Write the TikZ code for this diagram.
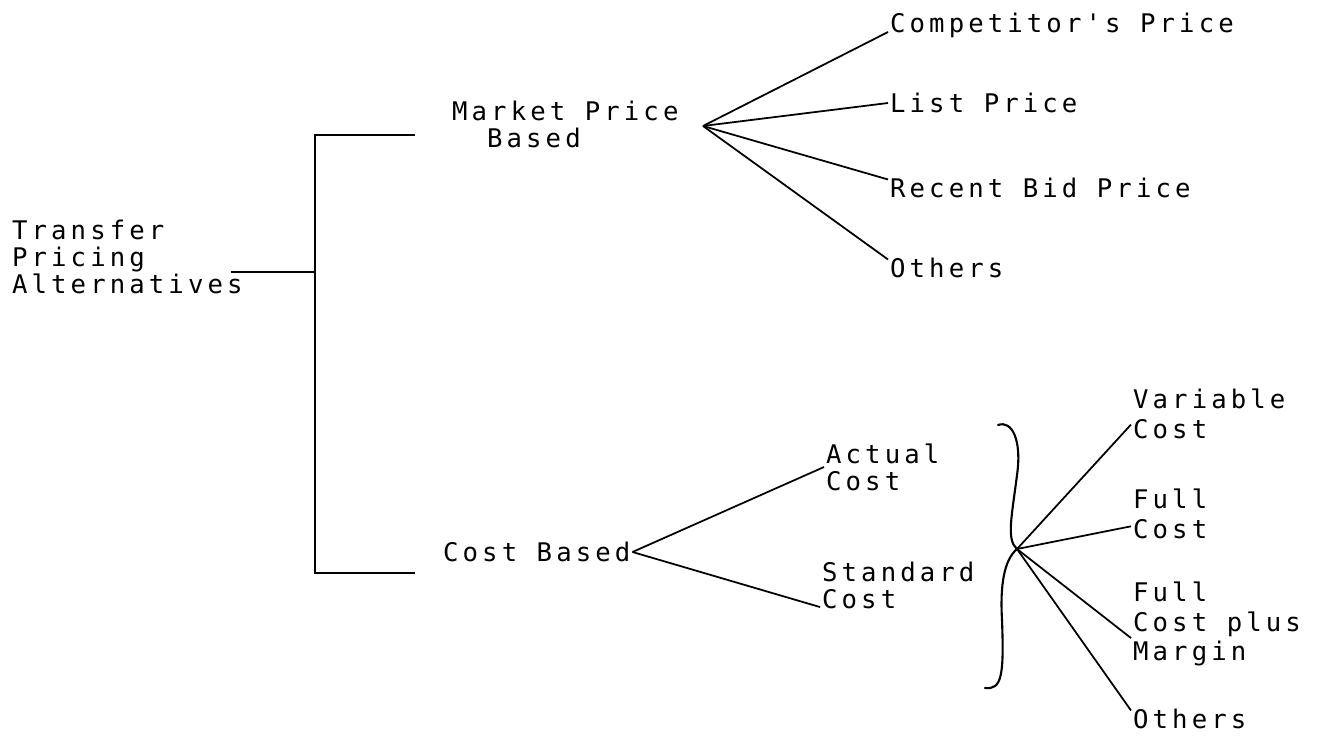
\documentclass[tikz,border=0pt]{standalone}
\usepackage{fontspec}
\usepackage{tikz}
\usetikzlibrary{positioning, calc}
\newfontfamily\typer{DejaVu Sans Mono}[LetterSpace=16]

\begin{document}
\begin{tikzpicture}[
  x={(0.02cm,0cm)}, y={(0cm,-0.02cm)},
  lbl/.style={font=\typer\fontsize{14.6}{15.4}\selectfont, inner sep=1pt,
              align=left, anchor=west},
  tall/.style={lbl, font=\typer\fontsize{14.6}{16.8}\selectfont},
  wire/.style={line width=1pt},
  curly/.style={line width=1.2pt, line cap=round}
]
  \useasboundingbox (0,0) rectangle (1317,736);

  % left side
  \node[lbl] (tpa) at (10,257) {Transfer\\Pricing\\Alternatives};
  \node[lbl] (mpb) at (450,124) {Market Price\\\phantom{Ma}Based};
  \node[lbl] (cb) at (441,552) {Cost Based};

  \coordinate (jn) at (315,272);
  \coordinate (mt) at (415,135);
  \coordinate (ct) at (415,573);
  \draw[wire] ([xshift=-8pt]tpa.east |- jn) -- (jn);
  \draw[wire] (mt) -- (mt -| jn) -- (ct -| jn) -- (ct);

  % market price branch
  \node[lbl] (cp) at (888,25) {Competitor's Price};
  \node[lbl] (lp) at (888,103) {List Price};
  \node[lbl] (rbp) at (888,188) {Recent Bid Price};
  \node[lbl] (oth1) at (888,268) {Others};
  \coordinate (mf) at (703,126);
  \draw[wire] (mf) -- ([yshift=-4pt]cp.west);
  \draw[wire] (mf) -- (lp.west);
  \draw[wire] (mf) -- ([yshift=-2pt]rbp.north west);
  \draw[wire] (mf) -- ([yshift=-2pt]oth1.north west);

  % cost branch
  \node[lbl] (ac) at (824,467) {Actual\\Cost};
  \node[lbl] (sc) at (820,585) {Standard\\Cost};
  \draw[wire] (cb.east) -- (ac.west);
  \draw[wire] (cb.east) -- ([yshift=2pt]sc.south west);

  % brace
  \coordinate (bt) at (1017,549);
  \draw[curly] (998,425) .. controls (1012,420) and (1022,440) .. (1017,475)
    .. controls (1012,515) and (1006,540) .. (bt)
    .. controls (1004,560) and (1000,585) .. (1002,620)
    .. controls (1004,675) and (1002,690) .. (985,688);

  \node[tall] (vc) at (1131,414) {Variable\\Cost};
  \node[tall] (fc) at (1131,514) {Full\\Cost};
  \node[tall] (fcm) at (1131,624) {Full\\Cost plus\\Margin};
  \node[tall] (oth2) at (1131,719) {Others};
  \draw[wire] (bt) -- ([yshift=-6pt]vc.west);
  \draw[wire] (bt) -- ([yshift=-7pt]fc.west);
  \draw[wire] (bt) -- ([yshift=-8pt]fcm.west);
  \draw[wire] (bt) -- ([yshift=-2pt]oth2.north west);
\end{tikzpicture}
\end{document}
